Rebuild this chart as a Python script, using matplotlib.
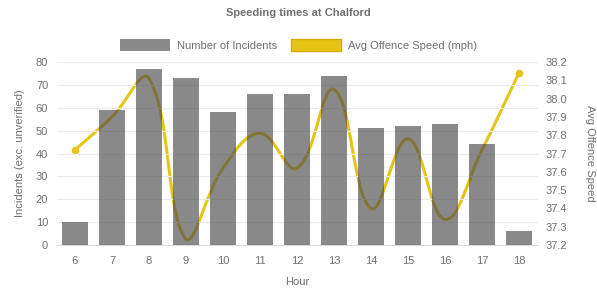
import matplotlib
matplotlib.use("Agg")
import matplotlib.pyplot as plt
from matplotlib.path import Path
from matplotlib.patches import PathPatch, Patch
import numpy as np

plt.rcParams['font.family'] = ['Liberation Sans', 'DejaVu Sans']

# データ
hours = [6, 7, 8, 9, 10, 11, 12, 13, 14, 15, 16, 17, 18]
incidents = [10, 59, 77, 73, 58, 66, 66, 74, 51, 52, 53, 44, 6]
avg_speed = [37.72, 37.90, 38.11, 37.23, 37.62, 37.81, 37.62, 38.05, 37.40, 37.78, 37.34, 37.72, 38.14]

TEXT = "#707070"
BAR = "#4a4a4a"
BAR_ALPHA = 0.65
LINE = "#e6c417"

# Chart.js風の曲線（tension 0.4）
def spline_path(xs, ys, sx, sy, ylo, yhi, t=0.4):
    px = np.array(xs, float) * sx
    py = np.array(ys, float) * sy
    n = len(px)
    c_in, c_out = [None] * n, [None] * n
    for i in range(n):
        p0 = (px[max(i - 1, 0)], py[max(i - 1, 0)])
        p1 = (px[i], py[i])
        p2 = (px[min(i + 1, n - 1)], py[min(i + 1, n - 1)])
        d01 = np.hypot(p1[0] - p0[0], p1[1] - p0[1])
        d12 = np.hypot(p2[0] - p1[0], p2[1] - p1[1])
        tot = d01 + d12
        s01 = d01 / tot if tot else 0
        s12 = d12 / tot if tot else 0
        fa, fb = t * s01, t * s12
        c_in[i] = (p1[0] - fa * (p2[0] - p0[0]), p1[1] - fa * (p2[1] - p0[1]))
        c_out[i] = (p1[0] + fb * (p2[0] - p0[0]), p1[1] + fb * (p2[1] - p0[1]))
    verts = [(px[0] / sx, py[0] / sy)]
    codes = [Path.MOVETO]
    for i in range(n - 1):
        a = c_out[i]
        b = c_in[i + 1]
        verts += [(a[0] / sx, min(max(a[1] / sy, ylo), yhi)),
                  (b[0] / sx, min(max(b[1] / sy, ylo), yhi)),
                  (px[i + 1] / sx, py[i + 1] / sy)]
        codes += [Path.CURVE4] * 3
    return Path(verts, codes)


fig = plt.figure(figsize=(5.97, 2.93), dpi=100)
ax = fig.add_axes([56.5 / 597, 48 / 293, 481 / 597, 183 / 293])
ax2 = ax.twinx()
ax.set_zorder(2)
ax.patch.set_visible(False)

ax.bar(hours, incidents, width=0.7, color=BAR, alpha=BAR_ALPHA, zorder=3)
ax.set_xlim(5.5, 18.5)
ax.set_ylim(0, 80)
ax.set_yticks(range(0, 81, 10))
ax.set_xticks(hours)
ax.grid(axis='y', color='#ebebeb', linewidth=0.8, zorder=0)

ax2.set_ylim(37.2, 38.2)
ax2.set_yticks(np.round(np.arange(37.2, 38.21, 0.1), 1))
ax2.set_yticklabels([f"{v:.1f}" for v in np.arange(37.2, 38.21, 0.1)])
path = spline_path(hours, avg_speed, 37.0, 183.0, 37.2, 38.2)
ax2.add_patch(PathPatch(path, facecolor='none', edgecolor=LINE, lw=2.2, zorder=2))
ax2.plot([hours[0], hours[-1]], [avg_speed[0], avg_speed[-1]], 'o', color=LINE, ms=4.5, zorder=3)

for a in (ax, ax2):
    for s in a.spines.values():
        s.set_visible(False)
    a.tick_params(colors=TEXT, labelsize=8, length=0, pad=6)
ax.spines['bottom'].set_visible(True)
ax.spines['bottom'].set_color('#d8d8d8')
ax.tick_params(axis='x', pad=8)

ax.set_xlabel("Hour", color=TEXT, fontsize=8, labelpad=8)
ax.set_ylabel("Incidents (exc. unverified)", color=TEXT, fontsize=8, labelpad=8)
ax2.set_ylabel("Avg Offence Speed", color=TEXT, fontsize=8, rotation=270, labelpad=20)

fig.text(0.5, 1 - 13 / 293, "Speeding times at Chalford", ha='center', va='center',
         color=TEXT, fontsize=8, fontweight='bold')

handles = [Patch(facecolor=BAR, alpha=BAR_ALPHA, label="Number of Incidents"),
           Patch(facecolor=LINE, edgecolor='#d4ad00', label="Avg Offence Speed (mph)")]
leg = fig.legend(handles=handles, loc='center', bbox_to_anchor=(0.5, 1 - 45 / 293), ncol=2,
                 frameon=False, fontsize=8, handlelength=4.5, handleheight=1.2,
                 columnspacing=1.3, handletextpad=0.6)
for txt in leg.get_texts():
    txt.set_color(TEXT)

fig.savefig("out.png", dpi=100)
